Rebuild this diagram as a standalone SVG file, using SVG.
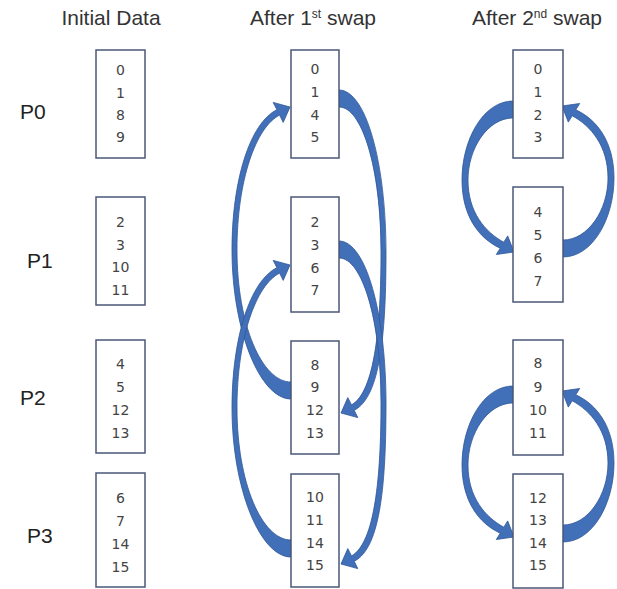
<svg xmlns="http://www.w3.org/2000/svg" width="617" height="589" viewBox="0 0 617 589">
<style>
.box{fill:#fff;stroke:#4a5878;stroke-width:1.5}
.num{font-family:"DejaVu Sans",sans-serif;font-size:14px;fill:#444;text-anchor:middle}
.title{font-family:"Liberation Sans",Arial,sans-serif;font-size:21px;fill:#333;text-anchor:middle}
.sup{font-size:12px}
.plabel{font-family:"Liberation Sans",Arial,sans-serif;font-size:21px;fill:#222}
.arrow{fill:#4170b8;stroke:#2f5597;stroke-width:0.8;stroke-linejoin:round}
</style>
<defs>
<path id="arcA" class="arrow" d="M 339 90 C 366 90, 386 163, 386 252 C 386 330, 381 397, 354.2 410.3 L 357.8 417.6 L 341 413 L 347.8 397.6 L 351.5 404.9 C 375 392, 381 325, 381 252 C 381 168, 362 107, 339 107 Z"/>
<path id="arcC" class="arrow" d="M 291 399 C 260 399, 232 330, 232 250 C 232 180, 250 123, 276.9 109.7 L 273.2 102.4 L 290 107 L 283.2 122.4 L 279.6 115.1 C 256 127, 237 180, 237 250 C 237 325, 262 382, 291 382 Z"/>
<path id="arcE" class="arrow" d="M 513 101 C 483 101, 462 140, 462 180 C 462 215, 478 238, 500.2 248.2 L 496.3 254.5 L 514 252 L 507.7 235.9 L 503.8 242.2 C 485 232, 468 212, 468 180 C 468 148, 488 118, 513 118 Z"/>
</defs>

<g id="titles">
<text class="title" x="111" y="25">Initial Data</text>
<text class="title" x="313" y="25">After 1<tspan class="sup" dy="-7">st</tspan><tspan dy="7"> swap</tspan></text>
<text class="title" x="537" y="25">After 2<tspan class="sup" dy="-7">nd</tspan><tspan dy="7"> swap</tspan></text>
</g>

<g id="labels">
<text class="plabel" x="20" y="119">P0</text>
<text class="plabel" x="27" y="268">P1</text>
<text class="plabel" x="20" y="405">P2</text>
<text class="plabel" x="27" y="543">P3</text>
</g>

<g id="connectors">
<use href="#arcA"/>
<use href="#arcA" transform="translate(0,151)"/>
<use href="#arcC"/>
<use href="#arcC" transform="translate(0,158)"/>
<use href="#arcE"/>
<use href="#arcE" transform="rotate(180 538 179)"/>
<use href="#arcE" transform="translate(0,285)"/>
<use href="#arcE" transform="translate(0,285) rotate(180 538 179)"/>
</g>

<g id="init-p0"><rect class="box" x="96" y="50" width="49" height="108"/>
<text class="num" x="120.5" y="75">0</text><text class="num" x="120.5" y="98">1</text><text class="num" x="120.5" y="120">8</text><text class="num" x="120.5" y="142">9</text></g>
<g id="init-p1"><rect class="box" x="96" y="197" width="49" height="108"/>
<text class="num" x="120.5" y="227">2</text><text class="num" x="120.5" y="250">3</text><text class="num" x="120.5" y="272">10</text><text class="num" x="120.5" y="295">11</text></g>
<g id="init-p2"><rect class="box" x="96" y="340" width="49" height="113"/>
<text class="num" x="120.5" y="369">4</text><text class="num" x="120.5" y="392">5</text><text class="num" x="120.5" y="415">12</text><text class="num" x="120.5" y="438">13</text></g>
<g id="init-p3"><rect class="box" x="96" y="473" width="49" height="114"/>
<text class="num" x="120.5" y="503">6</text><text class="num" x="120.5" y="526">7</text><text class="num" x="120.5" y="549">14</text><text class="num" x="120.5" y="572">15</text></g>

<g id="s1-p0"><rect class="box" x="291" y="50" width="48" height="108"/>
<text class="num" x="315" y="74">0</text><text class="num" x="315" y="97">1</text><text class="num" x="315" y="120">4</text><text class="num" x="315" y="142">5</text></g>
<g id="s1-p1"><rect class="box" x="291" y="197" width="48" height="115"/>
<text class="num" x="315" y="227">2</text><text class="num" x="315" y="250">3</text><text class="num" x="315" y="273">6</text><text class="num" x="315" y="295">7</text></g>
<g id="s1-p2"><rect class="box" x="291" y="341" width="48" height="113"/>
<text class="num" x="315" y="370">8</text><text class="num" x="315" y="392">9</text><text class="num" x="315" y="415">12</text><text class="num" x="315" y="438">13</text></g>
<g id="s1-p3"><rect class="box" x="291" y="474" width="48" height="113"/>
<text class="num" x="315" y="502">10</text><text class="num" x="315" y="525">11</text><text class="num" x="315" y="548">14</text><text class="num" x="315" y="570">15</text></g>

<g id="s2-p0"><rect class="box" x="513" y="50" width="50" height="108"/>
<text class="num" x="538" y="74">0</text><text class="num" x="538" y="97">1</text><text class="num" x="538" y="120">2</text><text class="num" x="538" y="142">3</text></g>
<g id="s2-p1"><rect class="box" x="513" y="187" width="50" height="115"/>
<text class="num" x="538" y="217">4</text><text class="num" x="538" y="240">5</text><text class="num" x="538" y="263">6</text><text class="num" x="538" y="286">7</text></g>
<g id="s2-p2"><rect class="box" x="513" y="340" width="50" height="115"/>
<text class="num" x="538" y="368">8</text><text class="num" x="538" y="392">9</text><text class="num" x="538" y="415">10</text><text class="num" x="538" y="438">11</text></g>
<g id="s2-p3"><rect class="box" x="513" y="474" width="50" height="114"/>
<text class="num" x="538" y="503">12</text><text class="num" x="538" y="525">13</text><text class="num" x="538" y="548">14</text><text class="num" x="538" y="570">15</text></g>
</svg>
